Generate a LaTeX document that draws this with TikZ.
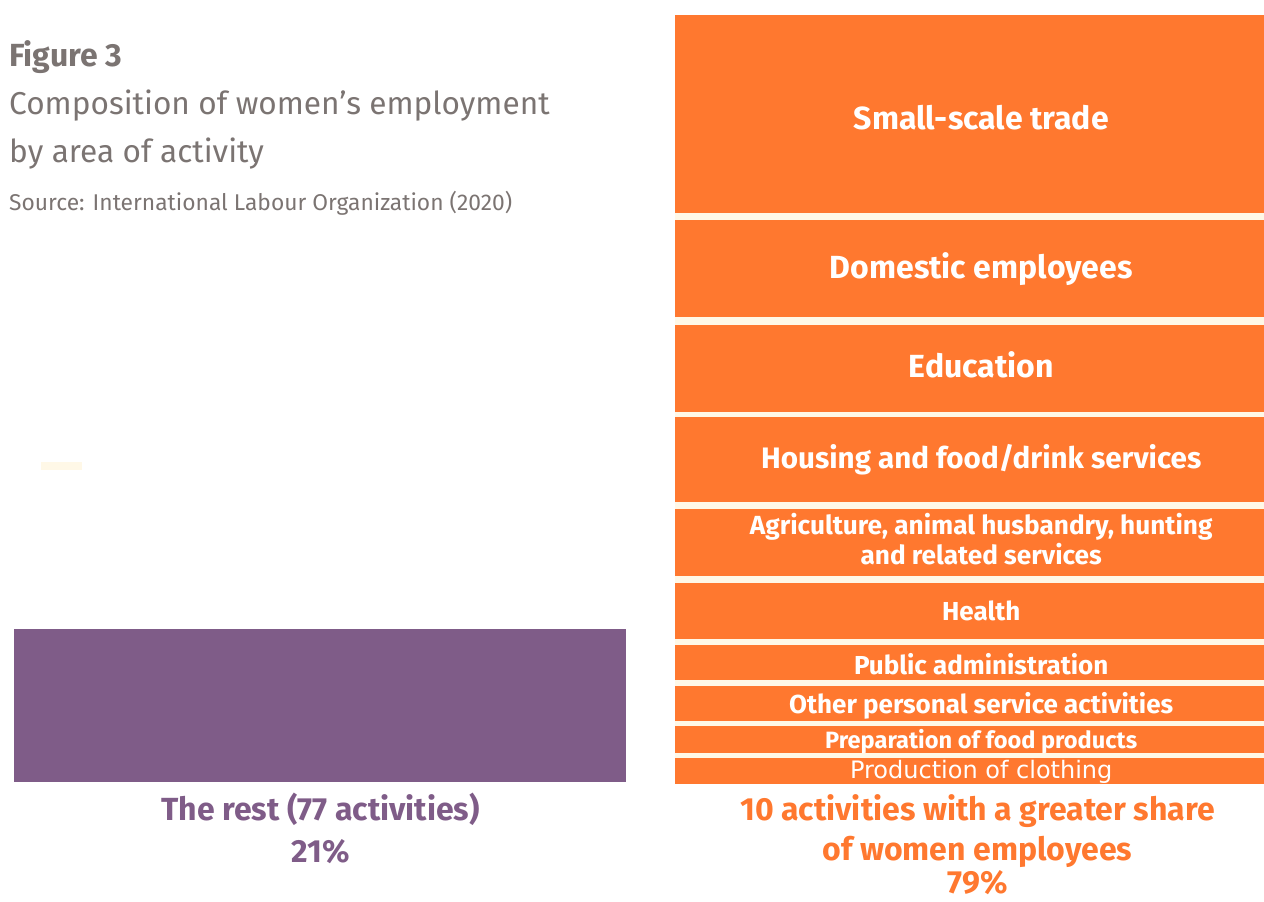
\documentclass[tikz,border=0pt]{standalone}
\usepackage{fontspec}
\setmainfont{Fira Sans}
\newfontfamily\clothfont{DejaVu Sans}
\usetikzlibrary{positioning}

\definecolor{act_orange}{HTML}{FF782F}
\definecolor{rest_purple}{HTML}{7F5C88}
\definecolor{title_gray}{HTML}{7B7472}
\definecolor{gap_cream}{HTML}{FFF8E7}

\begin{document}
\begin{tikzpicture}
    [
        x=1pt, y=-1pt,
        title_text/.style={anchor=base west, inner sep=0pt, text=title_gray},
        orange_block/.style={rectangle, fill=act_orange, anchor=north west, inner sep=0pt, minimum width=589pt},
        block_text/.style={text=white, inner sep=0pt, xshift=11.5pt, align=center, font=\bfseries\fontsize{26}{30}\selectfont},
        share_text/.style={anchor=base, inner sep=0pt, font=\bfseries\fontsize{32}{36}\selectfont},
    ]
        \useasboundingbox (0,0) rectangle (1264,902);
        % headline
        \node[title_text, font=\bfseries\fontsize{32}{34}\selectfont] (fig) at (9,66) {Figure 3};
        \node[title_text, font=\fontsize{31.6}{34}\selectfont] (cap1) at (9,114) {Composition of women’s employment};
        \node[title_text, font=\fontsize{31.6}{34}\selectfont] (cap2) at (9,162) {by area of activity};
        \node[title_text, font=\fontsize{22.8}{24}\selectfont] (src) at (9,210) {Source: International Labour Organization (2020)};
        \fill[gap_cream] (41,462) rectangle (82,470);
        % the rest
        \node[rectangle, fill=rest_purple, anchor=north west, minimum width=612pt, minimum height=153pt, inner sep=0pt] (rest) at (14,629) {};
        \node[share_text, text=rest_purple] (rest_lbl) at (320.5,820) {The rest (77 activities)};
        \node[share_text, text=rest_purple] (rest_pct) at (320.5,862) {21\%};
        % ten activities
        \fill[gap_cream] (675,212) rectangle (1264,758);
        \node[orange_block, minimum height=197.7pt, label={[block_text, yshift=-4pt, font=\bfseries\fontsize{32}{34}\selectfont]center:{Small-scale trade}}] (trade) at (675,15) {};
        \node[orange_block, minimum height=97pt, label={[block_text, font=\bfseries\fontsize{32}{34}\selectfont]center:{Domestic employees}}] (domestic) at (675,220) {};
        \node[orange_block, minimum height=87pt, label={[block_text, yshift=4pt, font=\bfseries\fontsize{32}{34}\selectfont]center:{Education}}] (educ) at (675,325) {};
        \node[orange_block, minimum height=85pt, label={[block_text, font=\bfseries\fontsize{29.6}{32}\selectfont]center:{Housing and food/drink services}}] (housing) at (675,417) {};
        \node[orange_block, minimum height=67pt, label={[block_text, yshift=4pt, font=\bfseries\fontsize{26.2}{30}\selectfont]center:{Agriculture, animal husbandry, hunting\\and related services}}] (agri) at (675,509) {};
        \node[orange_block, minimum height=56pt, label={[block_text]center:{Health}}] (health) at (675,583) {};
        \node[orange_block, minimum height=35pt, label={[block_text, yshift=-1pt]center:{Public administration}}] (public) at (675,645) {};
        \node[orange_block, minimum height=35pt, label={[block_text, yshift=-2pt]center:{Other personal service activities}}] (personal) at (675,686) {};
        \node[orange_block, minimum height=27pt, label={[block_text, yshift=-2pt, font=\bfseries\fontsize{23.6}{25}\selectfont]center:{Preparation of food products}}] (food) at (675,726) {};
        \node[orange_block, minimum height=26pt, label={[block_text, yshift=-1pt, font=\clothfont\fontsize{24}{25}\selectfont]center:{Production of clothing}}] (clothing) at (675,758) {};
        \node[share_text, text=act_orange] (ten_lbl) at (977.5,820) {10 activities with a greater share};
        \node[share_text, text=act_orange] (ten_lbl2) at (977.5,860) {of women employees};
        \node[share_text, text=act_orange] (ten_pct) at (977.5,893) {79\%};
\end{tikzpicture}
\end{document}
